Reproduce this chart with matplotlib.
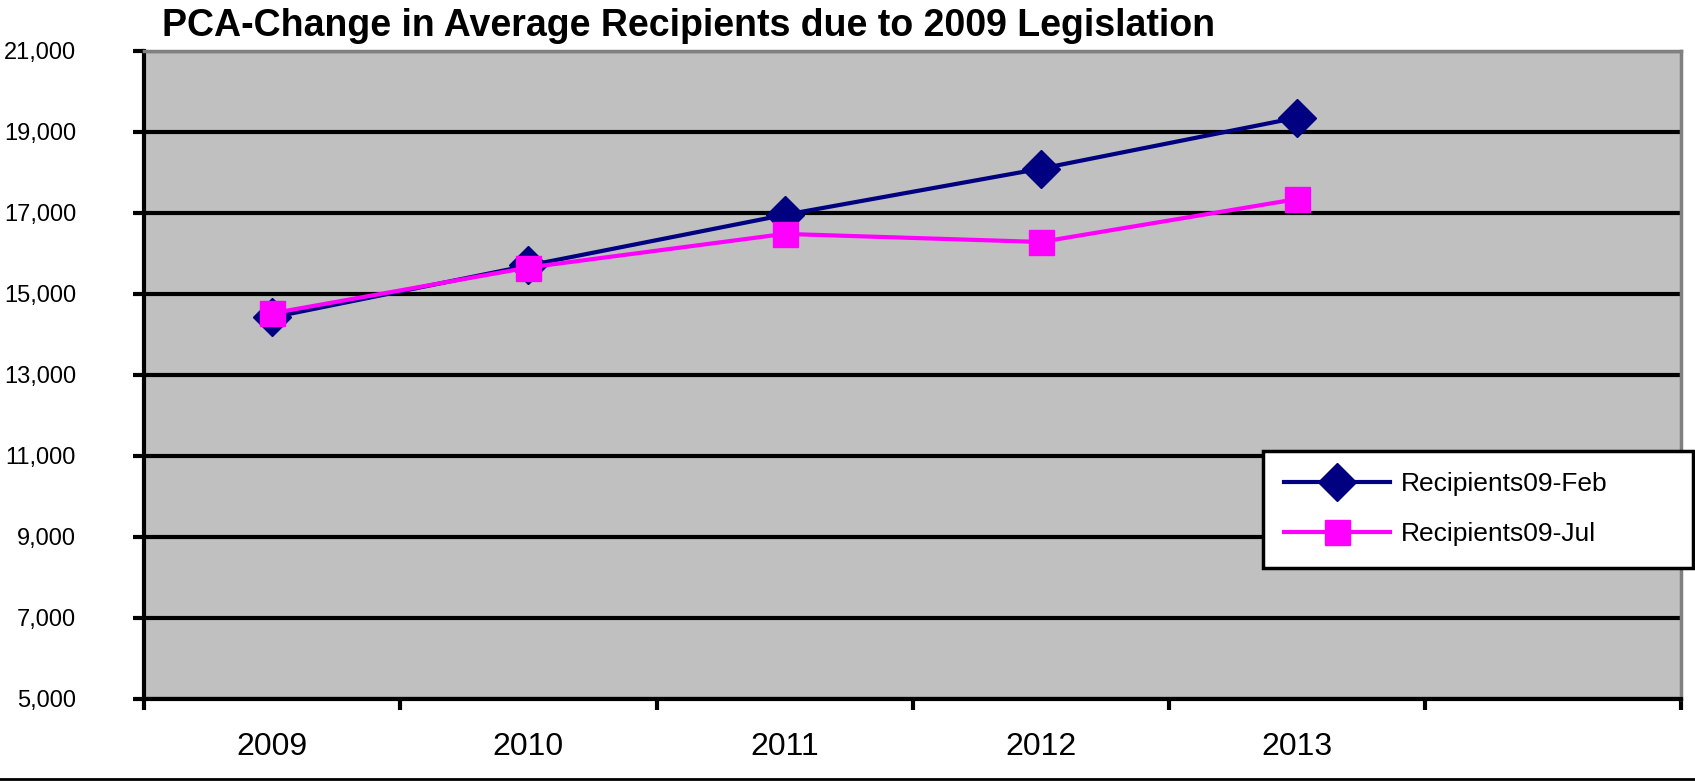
import matplotlib
matplotlib.use('Agg')
import matplotlib.pyplot as plt
from matplotlib.ticker import FuncFormatter, FixedLocator
from matplotlib.lines import Line2D

# data
years = ['2009', '2010', '2011', '2012', '2013']
recipients_feb = [14420, 15700, 16950, 18090, 19350]
recipients_jul = [14520, 15650, 16480, 16280, 17340]
y_ticks = [5000, 7000, 9000, 11000, 13000, 15000, 17000, 19000, 21000]

plt.rcParams['font.family'] = ['Liberation Sans', 'DejaVu Sans']

fig = plt.figure(figsize=(16.95, 7.81), dpi=100)
ax = fig.add_axes([0.085, 0.105, 0.907, 0.83])
ax.set_facecolor('#c0c0c0')

x = list(range(len(years)))
ax.plot(x, recipients_feb, color='#000080', lw=3, marker='D', markersize=19,
        label='Recipients09-Feb', zorder=3)
ax.plot(x, recipients_jul, color='#ff00ff', lw=3, marker='s', markersize=18,
        label='Recipients09-Jul', zorder=4)

ax.set_xlim(-0.5, 5.5)
ax.set_ylim(5000, 21000)
ax.set_yticks(y_ticks)
ax.yaxis.set_major_formatter(FuncFormatter(lambda v, p: f'{int(v):,}'))
ax.yaxis.grid(True, color='black', lw=3)
ax.set_axisbelow(True)

# category boundaries as major ticks, labels at centers as minor ticks
ax.xaxis.set_major_locator(FixedLocator([i - 0.5 for i in range(7)]))
ax.xaxis.set_minor_locator(FixedLocator(x))
ax.set_xticklabels([])
ax.set_xticklabels(years, minor=True)
ax.tick_params(axis='x', which='major', length=8, width=3, direction='out')
ax.tick_params(axis='x', which='minor', length=0, pad=24, labelsize=23)
ax.tick_params(axis='y', length=8, width=3, direction='out', pad=41, labelsize=17)

for s in ['left', 'bottom']:
    ax.spines[s].set_linewidth(3)
    ax.spines[s].set_color('black')
for s in ['top', 'right']:
    ax.spines[s].set_linewidth(2.5)
    ax.spines[s].set_color('#808080')

leg = ax.legend(loc='upper left',
                bbox_to_anchor=(1263 / 1695, 1 - 562 / 781, 430 / 1695, 111 / 781),
                bbox_transform=fig.transFigure, mode='expand', fancybox=False,
                framealpha=1, edgecolor='black', handlelength=4.0,
                handletextpad=0.42, borderaxespad=0, fontsize=19,
                borderpad=0.8, labelspacing=1.0)
leg.get_frame().set_linewidth(2.5)
leg.set_zorder(10)

fig.text(162 / 1695, 1 - 36 / 781,
         'PCA-Change in Average Recipients due to 2009 Legislation',
         fontsize=27, fontweight='bold', va='baseline', ha='left')

fig.add_artist(Line2D([0, 1], [0.002, 0.002], color='black', lw=2,
                      transform=fig.transFigure))

fig.savefig('out.png', dpi=100)
